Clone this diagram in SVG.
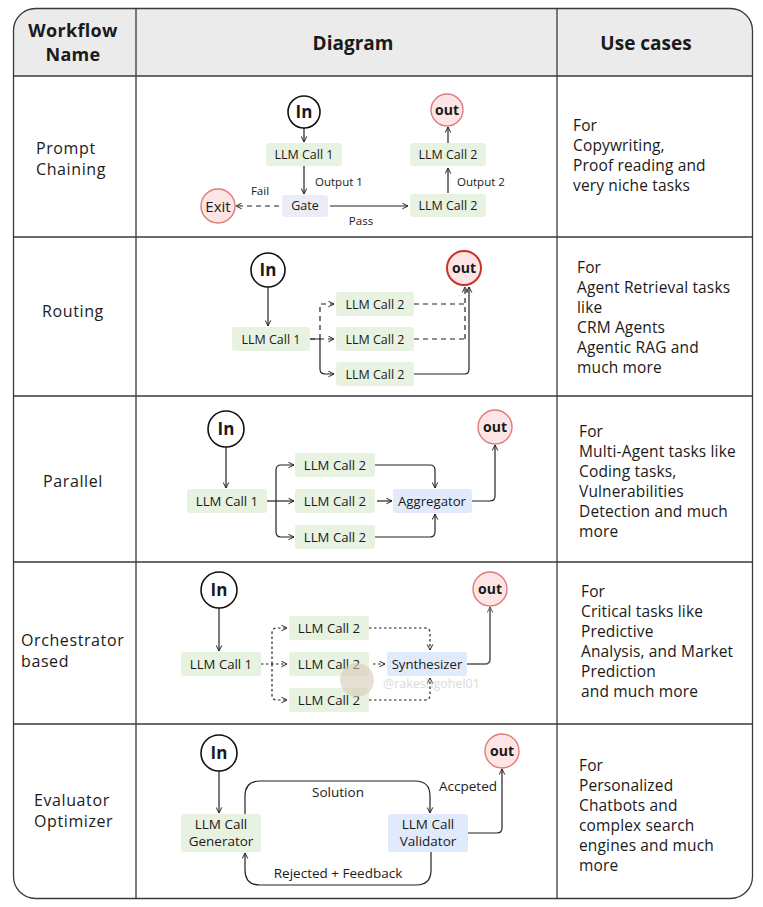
<svg xmlns="http://www.w3.org/2000/svg" width="763" height="907" viewBox="0 0 763 907">
<defs>
<marker id="arr" viewBox="0 0 10 10" refX="9" refY="5" markerWidth="7" markerHeight="7" markerUnits="userSpaceOnUse" orient="auto">
<path d="M1,1 L9,5 L1,9" fill="none" stroke="#222" stroke-width="1.4"/>
</marker>
<marker id="arrg" viewBox="0 0 10 10" refX="9" refY="5" markerWidth="7" markerHeight="7" markerUnits="userSpaceOnUse" orient="auto">
<path d="M1,1 L9,5 L1,9" fill="none" stroke="#555" stroke-width="1.4"/>
</marker>
</defs>
<style>
text{font-family:"Open Sans","Noto Sans",sans-serif;fill:#1a1a1a}
.hd{font-size:19px;font-weight:700;text-anchor:middle}
.hd2{font-size:18px;font-weight:700;text-anchor:middle;letter-spacing:0.3px}
.rl{font-size:16px;font-weight:500;letter-spacing:0.6px}
.uc{font-size:15.5px;letter-spacing:0.15px}
.bx{font-size:12.5px;text-anchor:middle}
.bx3{font-size:13.2px;text-anchor:middle}
.bx5{font-size:13.5px;text-anchor:middle}
.lb{font-size:11.5px}
.lbc{font-size:11.5px;text-anchor:middle}
.lb5{font-size:13.5px;text-anchor:middle}
.grid{stroke:#3a3a3a;stroke-width:1.3;fill:none}
.g{fill:#e8f2e1}
.b{fill:#e0eafa}
.p{fill:#ececf6}
.cin{fill:#fff;stroke:#111;stroke-width:1.6}
.cout{fill:#fde5e5;stroke:#e07a7a;stroke-width:1.4}
.tin{font-size:17px;font-weight:700;text-anchor:middle}
.tout{font-size:14px;font-weight:700;text-anchor:middle}
.ln{fill:none;stroke:#222;stroke-width:1.2}
.ds{stroke-dasharray:5 4}
.dt{stroke-dasharray:2.5 2.5}
</style>

<g id="table">
<path d="M13.5,76 V30.5 A22,22 0 0 1 35.5,8.5 H730.5 A22,22 0 0 1 752.5,30.5 V76 Z" fill="#ebebeb"/>
<rect class="grid" x="13.5" y="8.5" width="739" height="890" rx="22"/>
<path class="grid" d="M13.5,76 H752.5 M13.5,237 H752.5 M13.5,396 H752.5 M13.5,562 H752.5 M13.5,724 H752.5 M136,8.5 V898.5 M557,8.5 V898.5"/>
<text class="hd2" x="73" y="37">Workflow</text>
<text class="hd2" x="73" y="61">Name</text>
<text class="hd" x="353" y="50">Diagram</text>
<text class="hd" x="646" y="50">Use cases</text>
</g>

<g id="labels">
<text class="rl" x="36" y="154">Prompt</text>
<text class="rl" x="36" y="175">Chaining</text>
<text class="rl" x="73" y="317" text-anchor="middle">Routing</text>
<text class="rl" x="73" y="487" text-anchor="middle">Parallel</text>
<text class="rl" x="21" y="646">Orchestrator</text>
<text class="rl" x="21" y="667">based</text>
<text class="rl" x="34" y="806">Evaluator</text>
<text class="rl" x="34" y="827">Optimizer</text>
</g>

<g id="usecases">
<text class="uc" x="573" y="131">For</text>
<text class="uc" x="573" y="151">Copywriting,</text>
<text class="uc" x="573" y="171">Proof reading and</text>
<text class="uc" x="573" y="191">very niche tasks</text>
<text class="uc" x="577" y="273">For</text>
<text class="uc" x="577" y="293">Agent Retrieval tasks</text>
<text class="uc" x="577" y="313">like</text>
<text class="uc" x="577" y="333">CRM Agents</text>
<text class="uc" x="577" y="353">Agentic RAG and</text>
<text class="uc" x="577" y="373">much more</text>
<text class="uc" x="579" y="437">For</text>
<text class="uc" x="579" y="457">Multi-Agent tasks like</text>
<text class="uc" x="579" y="477">Coding tasks,</text>
<text class="uc" x="579" y="497">Vulnerabilities</text>
<text class="uc" x="579" y="517">Detection and much</text>
<text class="uc" x="579" y="537">more</text>
<text class="uc" x="581" y="597">For</text>
<text class="uc" x="581" y="617">Critical tasks like</text>
<text class="uc" x="581" y="637">Predictive</text>
<text class="uc" x="581" y="657">Analysis, and Market</text>
<text class="uc" x="581" y="677">Prediction</text>
<text class="uc" x="581" y="697">and much more</text>
<text class="uc" x="579" y="771">For</text>
<text class="uc" x="579" y="791">Personalized</text>
<text class="uc" x="579" y="811">Chatbots and</text>
<text class="uc" x="579" y="831">complex search</text>
<text class="uc" x="579" y="851">engines and much</text>
<text class="uc" x="579" y="871">more</text>
</g>

<g id="connectors">
<!-- row 1 -->
<path class="ln" d="M304,128 V142" marker-end="url(#arr)"/>
<path class="ln" d="M304,166 V194" marker-end="url(#arr)"/>
<path class="ln ds" d="M279,206 H236" marker-end="url(#arr)"/>
<path class="ln" d="M330,206 H408" marker-end="url(#arr)"/>
<path class="ln" d="M448,193 V168" marker-end="url(#arr)"/>
<path class="ln" d="M448,143 V127" marker-end="url(#arr)"/>
<!-- row 2 -->
<path class="ln" d="M268,287 V326" marker-end="url(#arr)"/>
<path class="ln ds" d="M310,339 H334" marker-end="url(#arr)"/>
<path class="ln ds" d="M320,339 V304 H334" marker-end="url(#arr)"/>
<path class="ln" d="M310,339 H320 V369 Q320,374 325,374 H334" marker-end="url(#arr)"/>
<path class="ln ds" d="M414,304 H465 M414,339 H465"/>
<path class="ln ds" d="M465,339 V287" marker-end="url(#arr)"/>
<path class="ln" d="M414,374 H465 Q469,374 469,369 V287" marker-end="url(#arr)"/>
<!-- row 3 -->
<path class="ln" d="M226,447 V488" marker-end="url(#arr)"/>
<path class="ln" d="M267,501 H294" marker-end="url(#arr)"/>
<path class="ln" d="M276,501 V470 Q276,465 281,465 H294" marker-end="url(#arr)"/>
<path class="ln" d="M276,501 V532 Q276,537 281,537 H294" marker-end="url(#arr)"/>
<path class="ln" d="M375,465 H430 Q435,465 435,470 V488" marker-end="url(#arr)"/>
<path class="ln" d="M377,501 H392" marker-end="url(#arr)"/>
<path class="ln" d="M375,537 H430 Q435,537 435,532 V514" marker-end="url(#arr)"/>
<path class="ln" d="M472,501 H490 Q495,501 495,496 V445" marker-end="url(#arr)"/>
<!-- row 4 -->
<path class="ln" d="M219,608 V651" marker-end="url(#arr)"/>
<path class="ln dt" d="M261,664 H287" marker-end="url(#arr)"/>
<path class="ln dt" d="M272,664 V633 Q272,628 277,628 H287" marker-end="url(#arr)"/>
<path class="ln dt" d="M272,664 V695 Q272,700 277,700 H287" marker-end="url(#arr)"/>
<path class="ln dt" d="M369,628 H425 Q430,628 430,633 V650" marker-end="url(#arr)"/>
<path class="ln dt" d="M373,664 H385" marker-end="url(#arr)"/>
<path class="ln dt" d="M369,700 H425 Q430,700 430,695 V678" marker-end="url(#arr)"/>
<path class="ln" style="stroke:#555;stroke-width:1.5" d="M467,664 H485 Q490,664 490,659 V607" marker-end="url(#arrg)"/>
<!-- row 5 -->
<path class="ln" d="M219,771 V813" marker-end="url(#arr)"/>
<path class="ln" d="M245,814 V796 Q245,781 260,781 H415 Q430,781 430,796 V813" marker-end="url(#arr)"/>
<path class="ln" d="M431,852 V870 Q431,885 416,885 H260 Q245,885 245,870 V853" marker-end="url(#arr)"/>
<path class="ln" d="M468,833 H497 Q502,833 502,828 V769" marker-end="url(#arr)"/>
<text class="lb" x="315" y="186">Output 1</text>
<text class="lbc" x="260" y="195">Fail</text>
<text class="lbc" x="361" y="225">Pass</text>
<text class="lb" x="457" y="186">Output 2</text>
<text class="lb5" x="338" y="797">Solution</text>
<text class="lb5" x="338" y="878">Rejected + Feedback</text>
<text class="lb5" x="468" y="791">Accpeted</text>
</g>

<g id="r1-in"><circle class="cin" cx="304" cy="112" r="16"/><text class="tin" x="304" y="118">In</text></g>
<g id="r1-call1"><rect class="g" x="266" y="143" width="76" height="23" rx="3"/><text class="bx" x="304" y="159">LLM Call 1</text></g>
<g id="r1-gate"><rect class="p" x="282" y="195" width="46" height="22" rx="3"/><text class="bx" x="305" y="210">Gate</text></g>
<g id="r1-exit"><circle class="cout" cx="218" cy="206" r="17"/><text x="218" y="211.5" font-size="15" font-weight="500" text-anchor="middle">Exit</text></g>
<g id="r1-call2b"><rect class="g" x="410" y="194" width="76" height="23" rx="3"/><text class="bx" x="448" y="210">LLM Call 2</text></g>
<g id="r1-call2a"><rect class="g" x="410" y="143" width="76" height="23" rx="3"/><text class="bx" x="448" y="159">LLM Call 2</text></g>
<g id="r1-out"><circle class="cout" cx="447" cy="110" r="16"/><text class="tout" x="447" y="115">out</text></g>

<g id="r2-in"><circle class="cin" cx="268" cy="270" r="17"/><text class="tin" x="268" y="276">In</text></g>
<g id="r2-call1"><rect class="g" x="232" y="327" width="78" height="24" rx="3"/><text class="bx" x="271" y="343.5">LLM Call 1</text></g>
<g id="r2-call2a"><rect class="g" x="336" y="292" width="78" height="24" rx="3"/><text class="bx" x="375" y="308.5">LLM Call 2</text></g>
<g id="r2-call2b"><rect class="g" x="336" y="327" width="78" height="24" rx="3"/><text class="bx" x="375" y="343.5">LLM Call 2</text></g>
<g id="r2-call2c"><rect class="g" x="336" y="362" width="78" height="24" rx="3"/><text class="bx" x="375" y="378.5">LLM Call 2</text></g>
<g id="r2-out"><circle cx="464" cy="268" r="17" fill="#fde5e5" stroke="#c9302c" stroke-width="2"/><text class="tout" x="464" y="273">out</text></g>

<g id="r3-in"><circle class="cin" cx="226" cy="429" r="18"/><text class="tin" x="226" y="435">In</text></g>
<g id="r3-call1"><rect class="g" x="187" y="489" width="80" height="24" rx="3"/><text class="bx3" x="227" y="505.5">LLM Call 1</text></g>
<g id="r3-call2a"><rect class="g" x="295" y="453" width="80" height="24" rx="3"/><text class="bx3" x="335" y="469.5">LLM Call 2</text></g>
<g id="r3-call2b"><rect class="g" x="295" y="489" width="80" height="24" rx="3"/><text class="bx3" x="335" y="505.5">LLM Call 2</text></g>
<g id="r3-call2c"><rect class="g" x="295" y="525" width="80" height="24" rx="3"/><text class="bx3" x="335" y="541.5">LLM Call 2</text></g>
<g id="r3-agg"><rect class="b" x="393" y="489" width="79" height="24" rx="3"/><text class="bx3" x="432" y="505.5">Aggregator</text></g>
<g id="r3-out"><circle class="cout" cx="495" cy="427" r="17"/><text class="tout" x="495" y="432">out</text></g>

<g id="r4-in"><circle class="cin" cx="219" cy="590" r="18"/><text class="tin" x="219" y="596">In</text></g>
<g id="r4-call1"><rect class="g" x="181" y="652" width="80" height="24" rx="3"/><text class="bx3" x="221" y="668.5">LLM Call 1</text></g>
<g id="r4-call2a"><rect class="g" x="289" y="616" width="80" height="24" rx="3"/><text class="bx3" x="329" y="632.5">LLM Call 2</text></g>
<g id="r4-call2b"><rect class="g" x="289" y="652" width="80" height="24" rx="3"/><text class="bx3" x="329" y="668.5">LLM Call 2</text></g>
<g id="r4-call2c"><rect class="g" x="289" y="688" width="80" height="24" rx="3"/><text class="bx3" x="329" y="704.5">LLM Call 2</text></g>
<g id="r4-synth"><rect class="b" x="387" y="652" width="80" height="24" rx="3"/><text class="bx3" x="427" y="668.5">Synthesizer</text></g>
<g id="r4-out"><circle class="cout" cx="490" cy="589" r="17"/><text class="tout" x="490" y="594">out</text></g>
<g id="watermark" opacity="0.6"><circle cx="357" cy="680" r="17" fill="#d9cbb8"/><text x="383" y="688" font-size="12.5" style="fill:#c4c4c4">@rakeshgohel01</text></g>

<g id="r5-in"><circle class="cin" cx="219" cy="753" r="18"/><text class="tin" x="219" y="759">In</text></g>
<g id="r5-gen"><rect class="g" x="181" y="814" width="80" height="38" rx="3"/><text class="bx5" x="221" y="829">LLM Call</text><text class="bx5" x="221" y="846">Generator</text></g>
<g id="r5-val"><rect class="b" x="388" y="814" width="80" height="38" rx="3"/><text class="bx5" x="428" y="829">LLM Call</text><text class="bx5" x="428" y="846">Validator</text></g>
<g id="r5-out"><circle class="cout" cx="502" cy="751" r="17"/><text class="tout" x="502" y="756">out</text></g>
</svg>
